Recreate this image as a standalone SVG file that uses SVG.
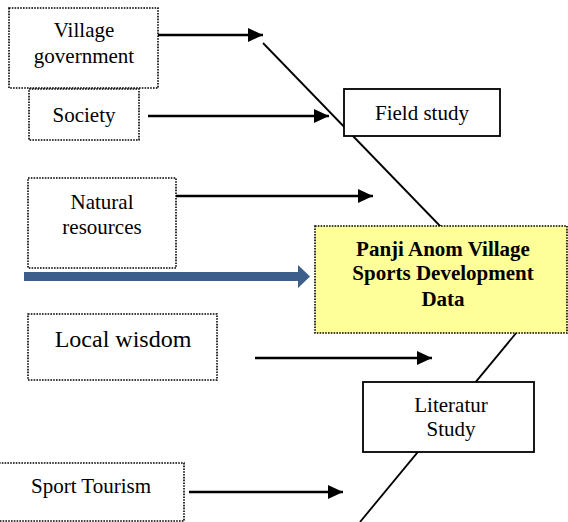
<svg xmlns="http://www.w3.org/2000/svg" width="568" height="522" viewBox="0 0 568 522">
<style>
.t{font-family:"Liberation Serif","Times New Roman",serif;font-size:21px;fill:#000;text-anchor:middle}
.b{font-weight:bold}
.dot{fill:#fff;stroke:#000;stroke-width:1.6;stroke-dasharray:1.6 1.2}
.sol{fill:#fff;stroke:#000;stroke-width:1.8}
.ar{stroke:#000;stroke-width:2.4;fill:none;marker-end:url(#ah)}
.dg{stroke:#000;stroke-width:1.8;fill:none}
</style>
<defs>
<marker id="ah" markerUnits="userSpaceOnUse" markerWidth="15" markerHeight="14" refX="15" refY="7" orient="auto">
<path d="M0,0 L15,7 L0,14 z" fill="#000"/>
</marker>
</defs>
<rect width="568" height="522" fill="#fff"/>
<g id="connectors">
<line class="dg" x1="263" y1="43" x2="441" y2="227"/>
<line class="dg" x1="517" y1="332" x2="360" y2="522"/>
<line class="ar" x1="158" y1="35" x2="263" y2="35"/>
<line class="ar" x1="148" y1="116" x2="329" y2="116"/>
<line class="ar" x1="176" y1="196" x2="373" y2="196"/>
<line class="ar" x1="255" y1="358" x2="432" y2="358"/>
<line class="ar" x1="189" y1="492" x2="343" y2="492"/>
<path d="M24,272 L298,272 L298,265 L310,276.5 L298,288 L298,281 L24,281 z" fill="#3B5F8A"/>
</g>
<g id="village-government">
<rect class="dot" x="9" y="8" width="149" height="80"/>
<text class="t" x="84" y="37">Village</text>
<text class="t" x="84" y="63">government</text>
</g>
<g id="society">
<rect class="dot" x="29" y="89" width="110" height="51"/>
<text class="t" x="84" y="122">Society</text>
</g>
<g id="field-study">
<rect class="sol" x="344" y="89" width="156" height="47"/>
<text class="t" x="422" y="120">Field study</text>
</g>
<g id="natural-resources">
<rect class="dot" x="28" y="178" width="148" height="90"/>
<text class="t" x="102" y="209">Natural</text>
<text class="t" x="102" y="234">resources</text>
</g>
<g id="panji-anom">
<rect class="dot" x="315" y="226" width="252" height="107" style="fill:#FFFF99"/>
<text class="t b" x="443" y="256">Panji Anom Village</text>
<text class="t b" x="443" y="280">Sports Development</text>
<text class="t b" x="443" y="306">Data</text>
</g>
<g id="local-wisdom">
<rect class="dot" x="28" y="314" width="189" height="66"/>
<text class="t" x="123" y="347" style="font-size:24px">Local wisdom</text>
</g>
<g id="literatur-study">
<rect class="sol" x="363" y="382" width="171" height="70"/>
<text class="t" x="451" y="412">Literatur</text>
<text class="t" x="451" y="436">Study</text>
</g>
<g id="sport-tourism">
<rect class="dot" x="-1" y="463" width="185" height="58"/>
<text class="t" x="91" y="493">Sport Tourism</text>
</g>
</svg>
